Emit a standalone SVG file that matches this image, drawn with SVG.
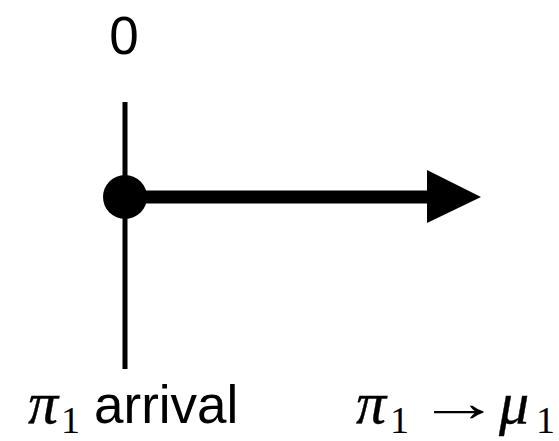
<svg xmlns="http://www.w3.org/2000/svg" width="559" height="441" viewBox="0 0 559 441">
<style>
.sans{font-family:"Liberation Sans",Arial,sans-serif;font-size:53px;fill:#000}
.mi{font-family:"Liberation Serif","Times New Roman",serif;font-style:italic;font-size:60px;fill:#000;stroke:#000;stroke-width:0.4}
.sub{font-family:"Liberation Serif","Times New Roman",serif;font-size:38px;fill:#000}
.op{font-family:"Liberation Serif","DejaVu Serif",serif;font-size:54px;fill:#000}
</style>
<rect width="559" height="441" fill="#fff"/>
<g id="timeline">
<line x1="125" y1="102" x2="125" y2="369" stroke="#000" stroke-width="5"/>
<text class="sans" x="124" y="54" text-anchor="middle">0</text>
</g>
<g id="connectors">
<line x1="125" y1="197" x2="430" y2="197" stroke="#000" stroke-width="13"/>
<polygon points="427,170 481,197 427,223" fill="#000"/>
</g>
<g id="origin">
<circle cx="125" cy="197" r="22" fill="#000"/>
</g>
<g id="label-arrival">
<text x="28" y="423"><tspan class="mi">π</tspan><tspan class="sub" x="61" y="433">1</tspan><tspan class="sans" x="94" y="423">arrival</tspan></text>
</g>
<g id="label-decay">
<text x="356" y="423"><tspan class="mi">π</tspan><tspan class="sub" x="390" y="433">1</tspan></text>
<text class="op" transform="translate(417,421) scale(1.55,1)">→</text>
<text x="499" y="423"><tspan class="mi">μ</tspan><tspan class="sub" x="536" y="433">1</tspan></text>
</g>
</svg>
